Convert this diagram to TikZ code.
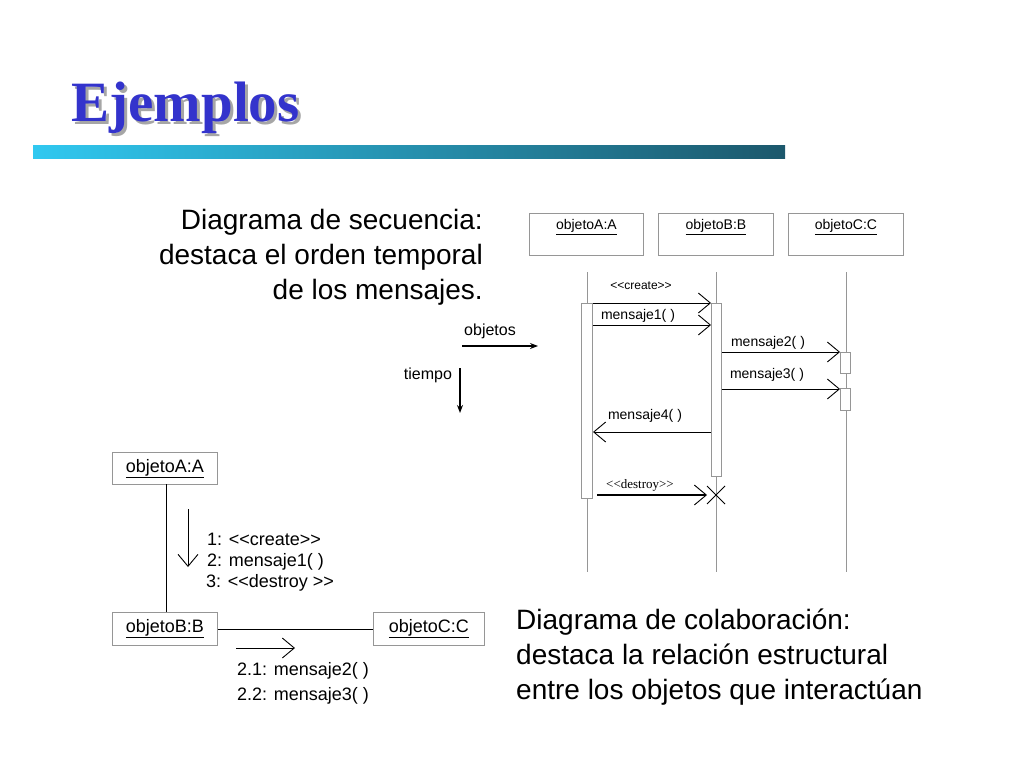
\documentclass[tikz,border=0pt]{standalone}
\usepackage{fontspec}
\setmainfont{Liberation Sans}
\newfontfamily\titlefont{Liberation Serif}
\usepackage{xcolor}
\usetikzlibrary{arrows.meta}
\definecolor{TitleBlue}{RGB}{51,51,204}
\definecolor{BarLight}{RGB}{48,200,240}
\definecolor{BarDark}{RGB}{28,88,108}
\definecolor{LineGray}{RGB}{150,150,150}
\newcommand{\stopen}{{<}{<}}
\newcommand{\stclose}{{>}{>}}
\tikzset{
  obj/.style={draw=LineGray,line width=0.8pt,inner sep=0pt,anchor=north west},
  act/.style={draw=LineGray,fill=white,line width=0.8pt},
  life/.style={draw=LineGray,line width=0.7pt},
  msg/.style={line width=0.6pt,-{Straight Barb[length=12pt,width=20pt,line width=0.9pt]}},
  lbl/.style={font=\fontsize{14}{14}\selectfont,inner sep=0pt},
  big/.style={font=\fontsize{28}{28}\selectfont,inner sep=0pt},
  mid/.style={font=\fontsize{18}{18}\selectfont,inner sep=0pt,anchor=west},
}
\begin{document}
\begin{tikzpicture}[x=1pt,y=-1pt]
\useasboundingbox (0,0) rectangle (1024,768);
% title and bar
\node[font=\titlefont\bfseries\fontsize{57}{57}\selectfont,text=black!35,anchor=base west] at (71,124) {Ejemplos};
\node[font=\titlefont\bfseries\fontsize{57}{57}\selectfont,text=TitleBlue,anchor=base west] (title) at (68,121) {Ejemplos};
\shade[left color=BarLight,right color=BarDark] (33,145) rectangle (785,158);
% sequence diagram
\foreach \t [count=\i] in {Diagrama de secuencia:,destaca el orden temporal,de los mensajes.}
  \node[big,anchor=base east] (seq\i) at (483,194+35*\i) {\t};
\node[obj,minimum width=114pt,minimum height=42pt] (sA) at (529,213) {};
\node[obj,minimum width=115pt,minimum height=42pt] (sB) at (658,213) {};
\node[obj,minimum width=115pt,minimum height=42pt] (sC) at (788,213) {};
\foreach \n/\t in {sA/objetoA:A,sB/objetoB:B,sC/objetoC:C}
  \node[lbl] at ([yshift=-14pt]\n.north) {\underline{\t}};
\draw[life] (587,272) -- (587,572);
\draw[life] (716,272) -- (716,572);
\draw[life] (846,272) -- (846,572);
\node[act,minimum width=11pt,minimum height=195pt,inner sep=0pt] (aA) at (587,400.5) {};
\node[act,minimum width=10pt,minimum height=173pt,inner sep=0pt] (aB) at (716,389.5) {};
\node[act,minimum width=10pt,minimum height=21pt,inner sep=0pt] (aC1) at (845,362.5) {};
\node[act,minimum width=10pt,minimum height=22pt,inner sep=0pt] (aC2) at (845,399) {};
\draw[msg] (593,303) -- (711,303);
\node[lbl,font=\fontsize{12}{12}\selectfont] at (641,286) {\stopen create\stclose};
\draw[msg] (593,325) -- (711,325);
\node[lbl] at (638,316) {mensaje1( )};
\draw[msg] (722,352) -- (840,352);
\node[lbl] at (768,343) {mensaje2( )};
\draw[msg] (722,389) -- (840,389);
\node[lbl] at (767,375) {mensaje3( )};
\draw[msg] (711,432) -- (593,432);
\node[lbl] at (645,416) {mensaje4( )};
\draw[msg,line width=1.2pt] (597,495) -- (707,495);
\node[lbl,font=\titlefont\fontsize{13}{13}\selectfont] at (640,485) {\stopen destroy\stclose};
\draw[line width=0.9pt] (707,486) -- (725,504) (725,486) -- (707,504);
% legend
\node[lbl,font=\fontsize{16}{16}\selectfont] (objetos) at (490,331) {objetos};
\draw[line width=1.4pt,-{Stealth[length=8pt]}] (462,346) -- (538,346);
\node[lbl,font=\fontsize{16}{16}\selectfont] (tiempo) at (428,375) {tiempo};
\draw[line width=1.4pt,-{Stealth[length=8pt]}] (460,368) -- (460,413);
% collaboration diagram
\node[obj,minimum width=105pt,minimum height=32pt] (cA) at (112,452) {};
\node[obj,minimum width=105pt,minimum height=33pt] (cB) at (112,612) {};
\node[obj,minimum width=111pt,minimum height=33pt] (cC) at (373,612) {};
\foreach \n/\t in {cA/objetoA:A,cB/objetoB:B,cC/objetoC:C}
  \node[lbl,font=\fontsize{18}{18}\selectfont] at (\n.center) {\underline{\t}};
\draw[line width=0.6pt] (166,484) -- (166,612);
\draw[line width=0.6pt] (cB.east) -- (cC.west);
\draw[msg] (188,509) -- (188,567);
\node[mid] at (207,539) {1: \stopen create\stclose};
\node[mid] at (207,562) {2: mensaje1( )};
\node[mid] at (206,583) {3: \stopen destroy \stclose};
\draw[msg] (236,648) -- (295,648);
\node[mid] at (237,671) {2.1: mensaje2( )};
\node[mid] at (237,696) {2.2: mensaje3( )};
\foreach \t [count=\i] in {Diagrama de colaboración:,destaca la relación estructural,entre los objetos que interactúan}
  \node[big,anchor=base west] (col\i) at (516,594+35*\i) {\t};
\end{tikzpicture}
\end{document}
